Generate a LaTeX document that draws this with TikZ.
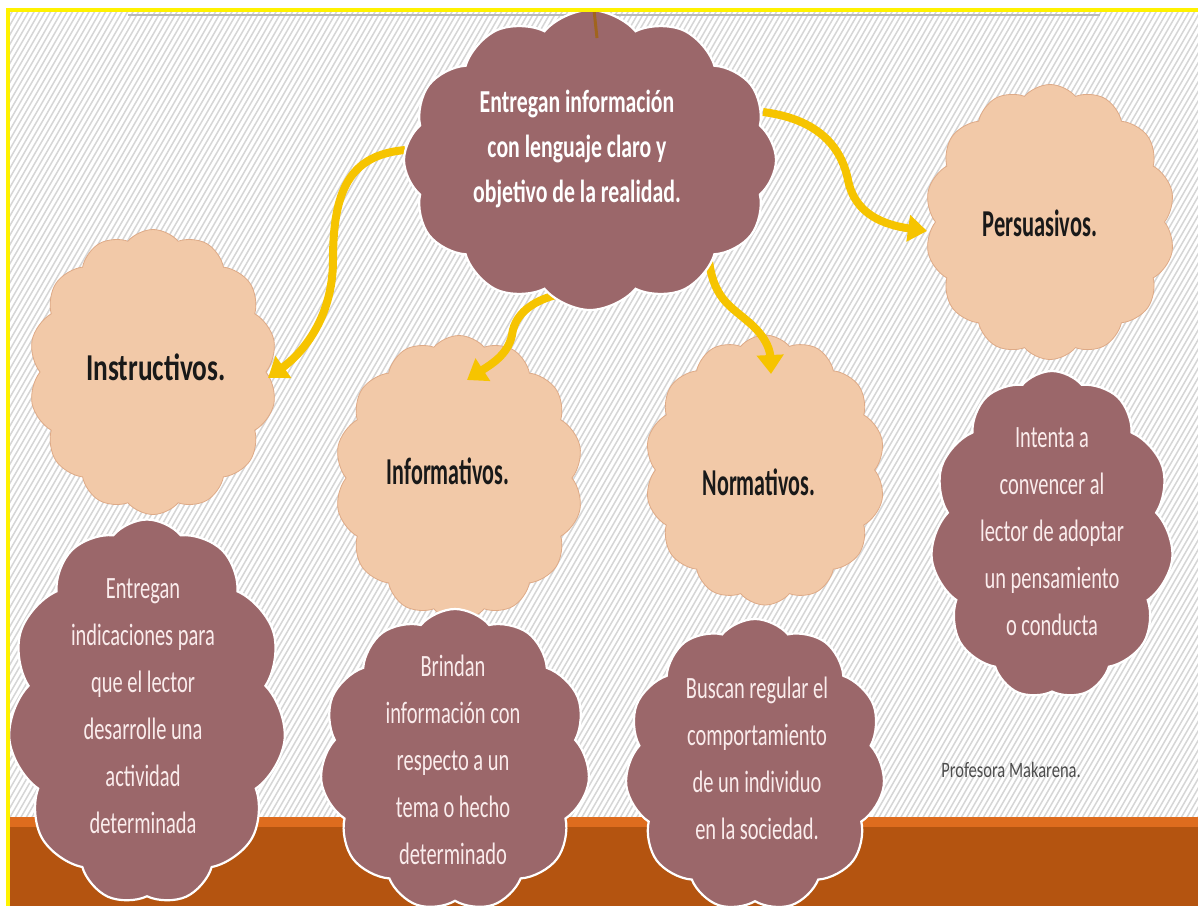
\documentclass[tikz,border=0pt]{standalone}
\usepackage{fontspec}
\setmainfont{Carlito}
\usetikzlibrary{shapes.symbols,arrows.meta}
\definecolor{mauve}{RGB}{155,103,106}
\definecolor{tanc}{RGB}{242,201,168}
\definecolor{tanb}{RGB}{222,170,135}
\definecolor{arrowy}{RGB}{246,196,0}
\definecolor{bandc}{RGB}{180,84,16}
\definecolor{bandl}{RGB}{222,108,30}
\definecolor{hatchc}{RGB}{214,214,214}
\definecolor{ctext}{RGB}{250,236,236}
\definecolor{spike}{RGB}{160,100,30}
\newcommand{\cltext}[2]{\scalebox{#1}[1]{\begin{tabular}{@{}c@{}}#2\end{tabular}}}
\tikzset{
  cl/.style={cloud, cloud ignores aspect, cloud puff arc=100, inner sep=0pt},
  mcl/.style={cl, fill=mauve, draw=white, line width=2.2pt, cloud puffs=11},
  tcl/.style={cl, fill=tanc, draw=tanb, line width=0.8pt, cloud puffs=14},
  btext/.style={font=\fontsize{31}{47}\selectfont, text=ctext, inner sep=0pt},
  htext/.style={font=\bfseries\fontsize{32}{45}\selectfont, text=white, inner sep=0pt},
  ttext/.style={font=\bfseries\fontsize{38}{40}\selectfont, text=black!90, inner sep=0pt},
  arr/.style={draw=arrowy, line width=8pt, -{Triangle[length=19pt,width=26pt]}}
}
\begin{document}
\begin{tikzpicture}[x=1pt,y=-1pt]
\useasboundingbox (0,0) rectangle (1198,906);
\fill[white] (0,0) rectangle (1198,906);
\begin{scope}
\clip (8,11) rectangle (1198,818);
\foreach \i in {-480,-474.5,...,1200} \draw[hatchc, line width=1.5pt] (\i,818) -- ++(465,-807);
\end{scope}
\fill[bandc] (8,817) rectangle (1198,906);
\fill[bandl] (8,817) rectangle (1198,827);
\draw[gray!55, line width=2pt] (128,15) -- (1100,15);

% tan clouds
\node[tcl, minimum width=248pt, minimum height=285pt] (instr) at (153,372) {};
\node[tcl, minimum width=248pt, minimum height=285pt] (inform) at (459,478) {};
\node[tcl, minimum width=240pt, minimum height=270pt] (norm) at (765,470) {};
\node[tcl, minimum width=250pt, minimum height=275pt] (pers) at (1050,222) {};

\node[ttext] (instr-t) at (156,372) {\cltext{0.72}{Instructivos.}};
\node[ttext] (inform-t) at (448,476) {\cltext{0.58}{Informativos.}};
\node[ttext] (norm-t) at (759,487) {\cltext{0.58}{Normativos.}};
\node[ttext] (pers-t) at (1040,228) {\cltext{0.59}{Persuasivos.}};

% mauve clouds
\node[mcl, minimum width=278pt, minimum height=385pt] (instr-d) at (147,712) {};
\node[mcl, minimum width=270pt, minimum height=302pt] (inform-d) at (455,760) {};
\node[mcl, minimum width=260pt, minimum height=292pt] (norm-d) at (755,765) {};
\node[mcl, minimum width=243pt, minimum height=328pt] (pers-d) at (1052,535) {};

\node[btext] (instr-dt) at (143,707) {\cltext{0.66}{Entregan\\indicaciones para\\que el lector\\desarrolle una\\actividad\\determinada}};
\node[btext] (inform-dt) at (453,761) {\cltext{0.66}{Brindan\\información con\\respecto a un\\tema o hecho\\determinado}};
\node[btext] (norm-dt) at (757,760) {\cltext{0.66}{Buscan regular el\\comportamiento\\de un individuo\\en la sociedad.}};
\node[btext] (pers-dt) at (1052,532) {\cltext{0.66}{Intenta a\\convencer al\\lector de adoptar\\un pensamiento\\o conducta}};

% arrows
\coordinate (a1s) at (405,150);
\coordinate (a1e) at (268,378);
\coordinate (a2s) at (572,292);
\coordinate (a2e) at (467,380);
\coordinate (a3s) at (708,252);
\coordinate (a3e) at (771,374);
\coordinate (a4s) at (763,112);
\coordinate (a4e) at (927,231);
\draw[arr] (a1s) .. controls (350,155) and (333,190) .. (333,260) .. controls (333,320) and (300,355) .. (a1e);
\draw[arr] (a2s) .. controls (540,296) and (515,310) .. (512,335) .. controls (508,355) and (490,365) .. (a2e);
\draw[arr] (a3s) .. controls (712,300) and (730,305) .. (752,325) .. controls (768,340) and (770,352) .. (a3e);
\draw[arr] (a4s) .. controls (810,118) and (840,140) .. (848,180) .. controls (855,215) and (885,225) .. (a4e);

% main cloud
\node[mcl, minimum width=372pt, minimum height=300pt, cloud puffs=12] (main) at (590,160) {};
\node[htext] (main-t) at (577,148) {\cltext{0.68}{Entregan información\\con lenguaje claro y\\objetivo de la realidad.}};
\coordinate (sp) at (594,10);
\draw[spike, line width=3pt] (sp) -- (597,38);

\node[font=\fontsize{22}{24}\selectfont, text=black!70, inner sep=0pt] (prof) at (1011,770) {\scalebox{0.75}[1]{Profesora Makarena.}};

% yellow border
\draw[yellow, line width=4pt] (8,906) -- (8,9.5) -- (1198,9.5);
\end{tikzpicture}
\end{document}
